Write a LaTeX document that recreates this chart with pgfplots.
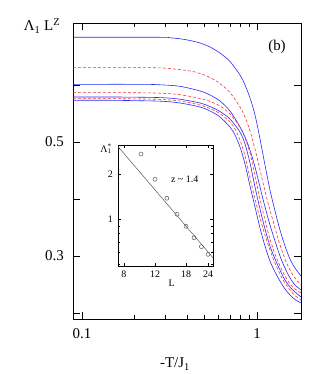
\documentclass[border=0pt]{standalone}
\usepackage{fontspec}
\setmainfont{Liberation Serif}
\usepackage{pgfplots}
\pgfplotsset{compat=1.18}
\definecolor{cblue}{RGB}{40,40,250}
\definecolor{cred}{RGB}{250,50,50}
\begin{document}
\begin{tikzpicture}
\fontsize{15}{18}\selectfont
\path[use as bounding box] (-73bp,-55bp) rectangle (259bp,319bp);
\begin{axis}[
  at={(0,0)}, anchor=south west,
  scale only axis, width=228bp, height=296bp,
  xmode=log, xmin=0.0888, xmax=1.784, ymin=0.1895, ymax=0.7088,
  xtick={0.1,1}, xticklabels={0.1,1},
  minor xtick={0.2,0.3,0.4,0.5,0.6,0.7,0.8,0.9},
  ytick={0.2,0.3,0.4,0.5,0.6}, yticklabels={,0.3,,0.5,},
  tick align=inside, major tick length=7bp, minor tick length=4bp,
  axis line style={line width=0.9pt},
  every tick/.style={black, line width=0.6pt},
  tick label style={font=\fontsize{15}{18}\selectfont},
  /pgf/number format/assume math mode=true,
  xticklabel style={yshift=-4bp},
  yticklabel style={xshift=-4bp},
  blu/.style={cblue, line width=0.6pt, smooth},
  rd/.style={cred, line width=0.6pt, smooth, dash pattern=on 3bp off 2bp},
]
% c1
\addplot[blu] coordinates {(0.0888,0.6837) (0.2791,0.6837) (0.3183,0.6828) (0.3631,0.6811) (0.4142,0.6781) (0.4723,0.6737) (0.5388,0.6667) (0.6144,0.6561) (0.7010,0.6412) (0.7998,0.6175) (0.8541,0.6000) (0.9120,0.5772) (0.9740,0.5474) (1.0402,0.5053) (1.1110,0.4596) (1.1862,0.4158) (1.2675,0.3789) (1.3530,0.3456) (1.4454,0.3175) (1.5436,0.2947) (1.6487,0.2789) (1.7843,0.2649)};
% c2
\addplot[rd] coordinates {(0.0888,0.6304) (0.2446,0.6304) (0.3183,0.6289) (0.4142,0.6246) (0.4723,0.6202) (0.5388,0.6132) (0.6144,0.6026) (0.7010,0.5868) (0.7998,0.5614) (0.8541,0.5439) (0.9120,0.5193) (0.9740,0.4877) (1.0402,0.4509) (1.1110,0.4140) (1.1862,0.3807) (1.2675,0.3491) (1.3530,0.3193) (1.4454,0.2947) (1.5436,0.2754) (1.6487,0.2614) (1.7843,0.2491)};
% c3
\addplot[blu] coordinates {(0.0888,0.6012) (0.2145,0.6012) (0.2791,0.6004) (0.3631,0.5977) (0.4723,0.5895) (0.5388,0.5825) (0.6144,0.5719) (0.7010,0.5544) (0.7998,0.5263) (0.8541,0.5088) (0.9120,0.4860) (0.9740,0.4561) (1.0402,0.4211) (1.1110,0.3860) (1.1862,0.3544) (1.2675,0.3263) (1.3530,0.3000) (1.4454,0.2789) (1.5436,0.2614) (1.6487,0.2491) (1.7843,0.2404)};
% c4
\addplot[rd] coordinates {(0.0888,0.5865) (0.1880,0.5865) (0.2791,0.5856) (0.3631,0.5830) (0.4723,0.5763) (0.5388,0.5711) (0.6144,0.5632) (0.7010,0.5491) (0.7998,0.5263) (0.8541,0.5070) (0.9120,0.4807) (0.9740,0.4404) (1.0402,0.4000) (1.1110,0.3632) (1.1862,0.3298) (1.2675,0.3035) (1.3530,0.2825) (1.4454,0.2649) (1.5436,0.2509) (1.6487,0.2421) (1.7843,0.2351)};
% c5
\addplot[blu] coordinates {(0.0888,0.5789) (0.1649,0.5789) (0.2791,0.5779) (0.3631,0.5751) (0.4723,0.5684) (0.5388,0.5623) (0.6144,0.5535) (0.7010,0.5404) (0.7998,0.5175) (0.8541,0.4965) (0.9120,0.4632) (0.9740,0.4211) (1.0402,0.3825) (1.1110,0.3474) (1.1862,0.3175) (1.2675,0.2947) (1.3530,0.2754) (1.4454,0.2579) (1.5436,0.2456) (1.6487,0.2368) (1.7843,0.2281)};
% c6
\addplot[rd] coordinates {(0.0888,0.5760) (0.1649,0.5760) (0.2791,0.5747) (0.3631,0.5719) (0.4723,0.5649) (0.5388,0.5588) (0.6144,0.5500) (0.7010,0.5351) (0.7487,0.5228) (0.7998,0.5035) (0.8541,0.4754) (0.9120,0.4368) (0.9740,0.4000) (1.0402,0.3667) (1.1110,0.3368) (1.1862,0.3105) (1.2675,0.2877) (1.3530,0.2684) (1.4454,0.2526) (1.5436,0.2404) (1.6487,0.2307) (1.7843,0.2228)};
% c7
\addplot[blu] coordinates {(0.0888,0.5732) (0.1445,0.5732) (0.2791,0.5716) (0.3631,0.5684) (0.4723,0.5614) (0.5388,0.5544) (0.6144,0.5439) (0.7010,0.5263) (0.7487,0.5123) (0.7998,0.4912) (0.8541,0.4614) (0.9120,0.4228) (0.9740,0.3860) (1.0402,0.3491) (1.1110,0.3175) (1.1862,0.2912) (1.2675,0.2719) (1.3530,0.2561) (1.4454,0.2421) (1.5436,0.2316) (1.6487,0.2237) (1.7843,0.2175)};
\end{axis}
\node at (-31bp,293bp) {Λ\textsubscript{1} L\textsuperscript{Z}};
\node at (204bp,272bp) {(b)};
\node at (102bp,-45bp) {-T/J\textsubscript{1}};
\begin{axis}[
  at={(45bp,53bp)}, anchor=south west,
  scale only axis, width=95bp, height=121bp,
  axis background/.style={fill=white},
  xmode=log, ymode=log,
  xmin=7.4, xmax=25.6, ymin=0.4826, ymax=3.15,
  xtick={8,12,18,24}, xticklabels={8,12,18,24},
  ytick={1,2}, yticklabels={1,2},
  minor xtick={}, minor ytick={0.5,0.6,0.7,0.8,0.9,3},
  tick align=inside, major tick length=3bp, minor tick length=2bp,
  axis line style={line width=0.6pt},
  every tick/.style={black, line width=0.4pt},
  tick label style={font=\fontsize{10}{12}\selectfont},
  /pgf/number format/assume math mode=true,
]
\addplot[gray!70!black, line width=0.5pt] coordinates {(7,3.32) (27,0.5095)};
\addplot[only marks, mark=o, mark size=2bp, gray!70!black, mark options={line width=0.5pt}] coordinates {(10,2.74) (12,1.85) (14,1.38) (16,1.076) (18,0.893) (20,0.748) (22,0.651) (24,0.578)};
\end{axis}
\node[font=\fontsize{10}{12}\selectfont, inner sep=0pt] at (33bp,170bp) {Λ\rlap{\textsuperscript{*}}\textsubscript{1}};
\node[font=\fontsize{10}{12}\selectfont] at (111.7bp,140bp) {z \textasciitilde{} 1.4};
\node[font=\fontsize{10}{12}\selectfont] at (98.7bp,35.7bp) {L};
\end{tikzpicture}
\end{document}
